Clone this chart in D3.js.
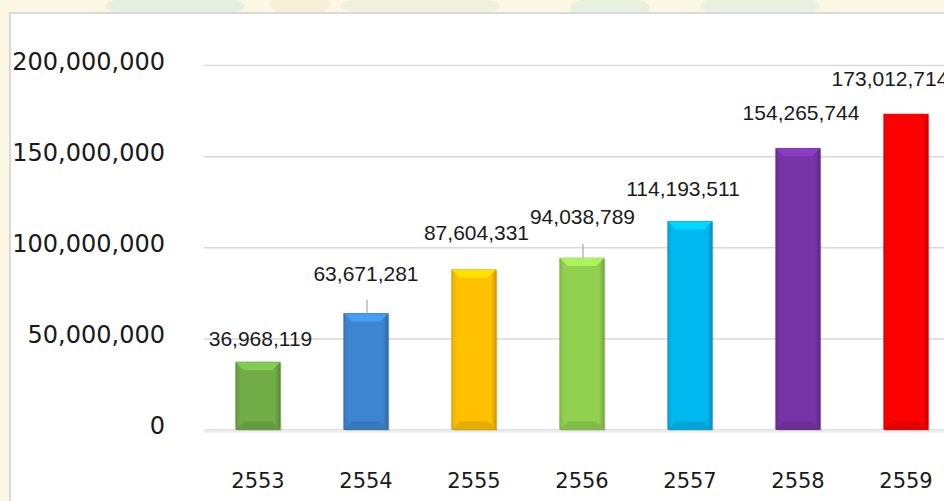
<!DOCTYPE html>
<html>
<head>
<meta charset="utf-8">
<script src="https://cdn.jsdelivr.net/npm/d3@7"></script>
<style>
  body { margin: 0; background: #fff; }
  svg text { font-family: "DejaVu Sans", sans-serif; fill: #1a1a1a; }
  svg text.value { font-family: "Liberation Sans", Arial, sans-serif; }
</style>
</head>
<body>
<div id="chart"></div>
<script>
// data
var years = ["2553", "2554", "2555", "2556", "2557", "2558", "2559"];
var amounts = [36968119, 63671281, 87604331, 94038789, 114193511, 154265744, 173012714];
var barColors = ["#70ad47", "#3d85d0", "#ffc000", "#92d050", "#00b8f0", "#7634a6", "#ff0000"];
var yTicks = [0, 50000000, 100000000, 150000000, 200000000];

// how far each value label sits above / beside its bar (label placement, px)
var labelLift = [24, 40, 37, 42, 33, 36, 36];
var labelShift = [2.5, 0, 2.5, 0.5, -7, 3, -16];
var leaderYears = ["2554", "2556"];

var W = 944, H = 501;
var plot = {left: 204, right: 960, top: 65, bottom: 429.5};

var svg = d3.select("#chart").append("svg")
    .attr("width", W)
    .attr("height", H);

// faded slide background that peeks out above the chart frame
var bg = svg.append("g");
bg.append("rect").attr("width", W).attr("height", H).attr("fill", "#fcf7e3");
var blotches = [[175, 6, 70, "#e6f0e2"], [420, 6, 80, "#eff1dc"], [610, 8, 40, "#e8f0e0"],
                [760, 6, 60, "#eaf1e1"], [1040, 6, 90, "#e8f0e3"], [300, 4, 30, "#f6eed6"]];
bg.selectAll("ellipse").data(blotches).enter().append("ellipse")
    .attr("cx", function (d) { return d[0]; })
    .attr("cy", function (d) { return d[1]; })
    .attr("rx", function (d) { return d[2]; })
    .attr("ry", 12)
    .attr("fill", function (d) { return d[3]; });

// chart frame
svg.append("rect")
    .attr("x", 10).attr("y", 13)
    .attr("width", W).attr("height", H)
    .attr("fill", "#fff")
    .attr("stroke", "#d9d9d9")
    .attr("stroke-width", 2);

var x = d3.scaleBand()
    .domain(years)
    .range([plot.left, plot.right])
    .paddingInner(0.59)
    .paddingOuter(0.295);

var y = d3.scaleLinear()
    .domain([0, 200000000])
    .range([plot.bottom, plot.top]);

// y axis with gridlines
var yAxis = svg.append("g")
    .attr("transform", "translate(" + plot.left + ",0)")
    .call(d3.axisLeft(y)
        .tickValues(yTicks)
        .tickSize(-(W - plot.left))
        .tickPadding(39)
        .tickFormat(d3.format(",")));
yAxis.select(".domain").remove();
yAxis.selectAll(".tick line")
    .attr("stroke", "#d9d9d9")
    .attr("stroke-width", 1.5);
yAxis.selectAll(".tick text")
    .attr("dy", "0.17em")
    .style("font-size", "24px")
    .attr("fill", "#1a1a1a");

// soft shadow under the base line
svg.append("line")
    .attr("x1", plot.left).attr("x2", W)
    .attr("y1", y(0) + 2).attr("y2", y(0) + 2)
    .attr("stroke", "#ececec")
    .attr("stroke-width", 2.5);

// x axis labels
var xAxis = svg.append("g")
    .attr("transform", "translate(0," + plot.bottom + ")")
    .call(d3.axisBottom(x).tickSize(0).tickPadding(44));
xAxis.select(".domain").remove();
xAxis.selectAll(".tick text")
    .style("font-size", "21px")
    .attr("fill", "#1a1a1a");

// bars with a bevelled look
var bw = x.bandwidth();
var inset = 8;
var bars = svg.append("g").selectAll("g")
    .data(years)
    .enter().append("g");

var defs = svg.append("defs");
years.forEach(function (yr, i) {
    var c = d3.color(barColors[i]);
    var g = defs.append("linearGradient").attr("id", "side" + i)
        .attr("x1", "0").attr("x2", "1").attr("y1", "0").attr("y2", "0");
    g.append("stop").attr("offset", "0").attr("stop-color", c.darker(0.25));
    g.append("stop").attr("offset", "0.1").attr("stop-color", c);
    g.append("stop").attr("offset", "0.88").attr("stop-color", c);
    g.append("stop").attr("offset", "1").attr("stop-color", c.darker(0.6));
});

bars.append("rect")
    .attr("x", function (d) { return x(d) + 1.5; })
    .attr("y", function (d, i) { return y(amounts[i]) + 1.5; })
    .attr("width", bw)
    .attr("height", function (d, i) { return y(0) - y(amounts[i]); })
    .attr("fill", "#000")
    .attr("opacity", 0.12);

bars.append("rect")
    .attr("x", function (d) { return x(d); })
    .attr("y", function (d, i) { return y(amounts[i]); })
    .attr("width", bw)
    .attr("height", function (d, i) { return y(0) - y(amounts[i]); })
    .attr("fill", function (d, i) { return "url(#side" + i + ")"; })
    .attr("stroke", function (d, i) { return d3.color(barColors[i]).darker(0.7); })
    .attr("stroke-width", 0.8);

// top facet
bars.append("polygon")
    .attr("points", function (d, i) {
        var x0 = x(d), x1 = x(d) + bw, t = y(amounts[i]);
        return [[x0, t], [x1, t], [x1 - inset, t + inset], [x0 + inset, t + inset]].join(" ");
    })
    .attr("fill", function (d, i) { return d3.color(barColors[i]).brighter(0.45); });

// bottom facet
bars.append("polygon")
    .attr("points", function (d) {
        var x0 = x(d), x1 = x(d) + bw, b = y(0);
        return [[x0, b], [x1, b], [x1 - inset, b - inset], [x0 + inset, b - inset]].join(" ");
    })
    .attr("fill", function (d, i) { return d3.color(barColors[i]).darker(0.3); });

// leader lines
bars.filter(function (d) { return leaderYears.indexOf(d) > -1; })
    .append("line")
    .attr("x1", function (d) { return x(d) + bw / 2 + 1; })
    .attr("x2", function (d) { return x(d) + bw / 2 + 1; })
    .attr("y1", function (d) { return y(amounts[years.indexOf(d)]) - 14; })
    .attr("y2", function (d) { return y(amounts[years.indexOf(d)]); })
    .attr("stroke", "#a6a6a6")
    .attr("stroke-width", 1.2);

// value labels
bars.append("text")
    .attr("class", "value")
    .attr("x", function (d, i) { return x(d) + bw / 2 + labelShift[i]; })
    .attr("y", function (d, i) { return y(amounts[i]) - labelLift[i]; })
    .attr("dy", "0.36em")
    .attr("text-anchor", "middle")
    .style("font-size", "21px")
    .text(function (d, i) { return d3.format(",")(amounts[i]); });
</script>
</body>
</html>
